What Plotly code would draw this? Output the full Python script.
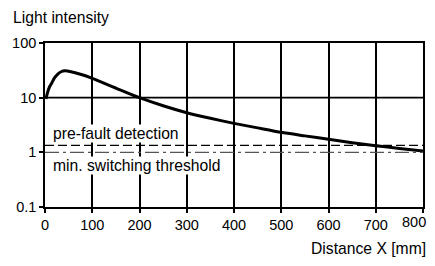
import plotly.graph_objects as go

# data
distance = [2, 6, 10, 15, 20, 27, 34, 42, 55, 75, 100, 150, 200, 250, 300, 350, 400, 450, 500, 550, 600, 650, 700, 750, 800]
intensity = [9.5, 13.0, 16.0, 19.0, 23.0, 27.0, 29.8, 31.0, 29.8, 26.8, 22.6, 15.0, 10.0, 7.1, 5.3, 4.2, 3.39, 2.8, 2.32, 2.0, 1.73, 1.5, 1.32, 1.18, 1.06]
prefault_level = 1.34
switching_level = 1.0
x_ticks = [0, 100, 200, 300, 400, 500, 600, 700, 800]
x_tick_labels = ["0", "100", "200", "300", "400", "500", "600", "700", "800"]
y_ticks = [0.1, 1, 10, 100]
y_tick_labels = ["0.1", "1", "10", "100"]
y_grid = [10]

FONT = "Liberation Sans, Arial, Helvetica, sans-serif"
OFF = 8  # default body margin of the html page
W, H = 435 - OFF, 266 - 2 * OFF
L, T = 45 - OFF, 43 - OFF
PW, PH = 378, 164
R, B = W - L - PW, H - T - PH
VIS_RIGHT = 427  # right edge of the visible page area (window pixels)

def px_x(p):
    return (p - OFF - L) / PW

def px_y(p):
    return 1 - (p - OFF - T) / PH

fig = go.Figure()
fig.add_trace(go.Scatter(x=distance, y=intensity, mode="lines",
                         line=dict(color="black", width=3, shape="spline", smoothing=0.6),
                         hoverinfo="skip", showlegend=False))
fig.add_trace(go.Scatter(x=[x_ticks[0], x_ticks[-1]], y=[prefault_level, prefault_level], mode="lines",
                         line=dict(color="black", width=1.3, dash="9px,4px"), showlegend=False))
fig.add_trace(go.Scatter(x=[x_ticks[0], x_ticks[-1]], y=[switching_level, switching_level], mode="lines",
                         line=dict(color="#555555", width=1.3, dash="14px,4px,3px,4px"), showlegend=False))

for yv in y_grid:
    fig.add_shape(type="line", xref="x", yref="y", x0=x_ticks[0], x1=x_ticks[-1], y0=yv, y1=yv,
                  line=dict(color="black", width=1.6), layer="below")

fig.add_annotation(x=14, y=0.344, xref="x", yref="y", text="pre-fault detection", showarrow=False,
                   xanchor="left", yanchor="middle", bgcolor="white", borderpad=0,
                   font=dict(family=FONT, size=15.7, color="black"))
fig.add_annotation(x=14, y=-0.245, xref="x", yref="y", text="min. switching threshold", showarrow=False,
                   xanchor="left", yanchor="middle", bgcolor="white", borderpad=0,
                   font=dict(family=FONT, size=15.7, color="black"))
fig.add_annotation(x=px_x(11), y=px_y(17), xref="paper", yref="paper", text="Light intensity", showarrow=False,
                   xanchor="left", yanchor="middle", font=dict(family=FONT, size=15.7, color="black"))
fig.add_annotation(x=px_x(VIS_RIGHT), y=px_y(258), xref="paper", yref="paper", text="Distance X [mm]",
                   showarrow=False, xanchor="right", yanchor="bottom", borderpad=0,
                   font=dict(family=FONT, size=15.7, color="black"))
# last x tick label, kept inside the visible area
fig.add_annotation(x=px_x(VIS_RIGHT), y=0, xref="paper", yref="paper", text=x_tick_labels[-1],
                   showarrow=False, xanchor="right", yanchor="top", yshift=-6, borderpad=0,
                   font=dict(family=FONT, size=14.5, color="black"))

fig.update_layout(
    width=W, height=H, margin=dict(l=L, r=R, t=T, b=B, autoexpand=False),
    paper_bgcolor="white", plot_bgcolor="white",
    font=dict(family=FONT, size=14.5, color="black"),
    showlegend=False,
)
fig.update_xaxes(range=[x_ticks[0], x_ticks[-1]], tickvals=x_ticks,
                 ticktext=x_tick_labels[:-1] + [""], ticks="outside", ticklen=4,
                 tickwidth=1.6, tickcolor="black", showline=True, linecolor="black", linewidth=1.6,
                 mirror=True, showgrid=True, gridcolor="black", gridwidth=1.6, zeroline=False,
                 tickfont=dict(size=14.5), fixedrange=True, automargin=False, ticklabeloverflow="allow")
fig.update_yaxes(type="log", range=[-1, 2], tickvals=y_ticks, ticktext=y_tick_labels, ticks="outside",
                 ticklen=4, tickwidth=1.6, tickcolor="black", showline=True, linecolor="black",
                 linewidth=1.6, mirror=True, showgrid=False, zeroline=False, tickfont=dict(size=14.5),
                 fixedrange=True, automargin=False, ticklabeloverflow="allow")

fig.write_html("out.html")
